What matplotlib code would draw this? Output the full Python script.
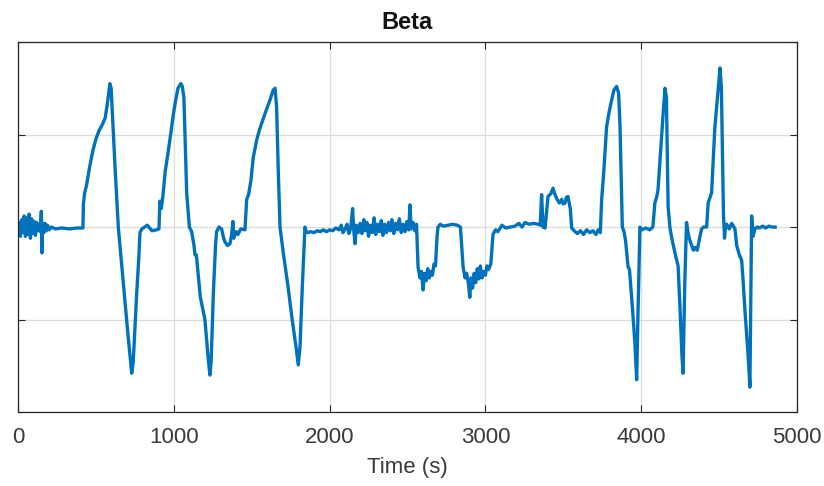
import matplotlib
matplotlib.use("Agg")
import matplotlib.pyplot as plt

plt.rcParams["font.family"] = ["Liberation Sans", "DejaVu Sans"]

# ── data ──────────────────────────────────────────────────────────────────────
start_t = [0, 8, 16, 24, 32, 40, 48, 56, 64, 72, 80, 88, 96, 104, 112, 120,
           128, 136, 144, 150, 154, 158, 166, 174, 182, 190, 200, 215, 240,
           280, 330, 380, 417]
start_v = [-0.05, 0.05, -0.10, 0.08, -0.06, 0.12, -0.10, 0.10, -0.08, 0.14,
           -0.12, 0.09, -0.07, 0.06, -0.09, 0.05, -0.04, 0.03, -0.05, 0.17,
           -0.28, 0.04, -0.06, 0.04, -0.04, 0.02, -0.03, 0.00, -0.02, -0.01,
           -0.02, -0.01, -0.01]

pulses_t = [420, 428, 440, 460, 480, 500, 520, 545, 560, 575, 590, 598, 623,
            644, 660, 700, 730, 740, 762, 775, 783, 795, 830, 860, 890, 905,
            911, 920, 930, 945, 963, 980, 995, 1010, 1027, 1045, 1055, 1065,
            1083, 1100, 1115, 1130, 1136, 1145, 1170, 1200, 1220, 1232, 1240,
            1254, 1268, 1275, 1290, 1307, 1320, 1329, 1345, 1361, 1370, 1380,
            1385, 1400, 1412, 1430, 1457,
            1468, 1480, 1495, 1510, 1532, 1550, 1574, 1595, 1617, 1638, 1650,
            1660, 1670, 1682, 1703, 1730, 1760, 1785, 1799, 1810, 1825, 1842,
            1850]
pulses_v = [0.25, 0.37, 0.45, 0.65, 0.82, 0.95, 1.04, 1.12, 1.18, 1.35, 1.55,
            1.50, 0.65, 0.00, -0.30, -1.05, -1.58, -1.45, -0.72, -0.35, -0.06,
            -0.02, 0.02, -0.04, -0.03, -0.02,
            0.28, 0.20, 0.33, 0.60, 0.80, 1.00, 1.19, 1.35, 1.50, 1.55, 1.52,
            1.40, 0.37, 0.00, -0.05, -0.20, -0.30, -0.30, -0.75, -1.00, -1.40,
            -1.60, -1.45, -0.72, -0.20, -0.05, 0.00, -0.02, -0.12, -0.16,
            -0.20, -0.18, -0.10, 0.06, -0.12, -0.05, -0.08, -0.02, -0.03,
            0.30, 0.35, 0.50, 0.75, 0.94, 1.05, 1.17, 1.27, 1.37, 1.48, 1.50,
            1.30, 0.65, 0.00, -0.28, -0.60, -1.00, -1.30, -1.49, -1.30, -0.65,
            0.00, -0.05]

middle_t = [1860, 1880, 1900, 1920, 1940, 1960, 1980, 2000, 2020, 2040, 2060,
            2075, 2085, 2100, 2112, 2124, 2136, 2148, 2156, 2164, 2172, 2184,
            2196, 2208, 2220, 2230, 2240, 2250, 2262, 2274, 2286, 2296, 2308,
            2320, 2332, 2342, 2354, 2366, 2378, 2390, 2400, 2412, 2424, 2436,
            2448, 2460, 2472, 2484, 2496, 2508, 2516, 2524, 2536, 2548, 2558,
            2568, 2580, 2590, 2600, 2610, 2620, 2630, 2640, 2650, 2660, 2670,
            2680, 2690, 2696, 2710, 2730, 2760, 2790, 2820, 2840,
            2857, 2870, 2880, 2892, 2900, 2908, 2918, 2928, 2938, 2948, 2958,
            2968, 2978, 2990, 3000, 3010, 3020, 3035, 3049, 3065, 3080, 3107,
            3130, 3160, 3190, 3215, 3235, 3255, 3280, 3310, 3340, 3352]
middle_v = [-0.06, -0.05, -0.06, -0.04, -0.05, -0.03, -0.05, -0.03, -0.04,
            -0.01, -0.03, 0.02, -0.06, -0.02, 0.03, -0.07, -0.01, 0.20, -0.05,
            -0.18, 0.02, -0.06, 0.04, -0.07, 0.08, -0.04, 0.05, -0.10, 0.02,
            -0.06, 0.10, -0.08, 0.03, -0.05, 0.07, -0.09, 0.03, -0.06, 0.05,
            -0.04, 0.08, -0.07, 0.04, -0.03, 0.09, -0.06, 0.03, -0.05, 0.06,
            -0.03, 0.24, -0.02, 0.05, -0.04, 0.03,
            -0.43, -0.55, -0.48, -0.68, -0.50, -0.58, -0.45, -0.55, -0.48,
            -0.52, -0.40, -0.42, -0.10, 0.00, 0.03, 0.01, 0.02, 0.03, 0.02,
            0.00,
            -0.43, -0.55, -0.50, -0.62, -0.76, -0.55, -0.66, -0.50, -0.60,
            -0.45, -0.56, -0.42, -0.55, -0.48, -0.52, -0.42, -0.46, -0.40,
            -0.08, -0.03, -0.05, 0.02, -0.01, 0.00, 0.01, 0.04, 0.00, 0.05,
            0.03, 0.04, 0.03, 0.02]

late_t = [3361, 3370, 3383, 3395, 3402, 3420, 3434, 3445, 3460, 3475, 3490,
          3500, 3511, 3520, 3530, 3545, 3554, 3570, 3590, 3610, 3630, 3650,
          3670, 3690, 3710, 3725, 3738,
          3746, 3760, 3778, 3795, 3810, 3825, 3842, 3855, 3864, 3879, 3890,
          3900, 3916, 3925, 3945, 3960, 3971, 3980, 3992, 4005, 4030, 4055,
          4075, 4088, 4100, 4108, 4120, 4131, 4142, 4153, 4162, 4173, 4185,
          4200, 4217, 4237, 4250, 4262, 4269, 4280, 4291, 4300, 4310, 4325,
          4335, 4345, 4360, 4375, 4388, 4400, 4420, 4430, 4452, 4465, 4473,
          4490, 4500, 4506, 4515, 4528, 4535, 4542, 4549, 4565, 4581, 4595,
          4602, 4613, 4630, 4645, 4655, 4666, 4685, 4698, 4705, 4709, 4718,
          4730, 4745, 4760, 4780, 4800, 4820, 4840, 4860]
late_v = [0.35, 0.00, -0.01, 0.20, 0.33, 0.36, 0.42, 0.36, 0.30, 0.26, 0.30,
          0.25, 0.26, 0.32, 0.33, 0.20, -0.01, -0.04, -0.07, -0.04, -0.08,
          -0.03, -0.06, -0.04, -0.08, -0.03, -0.06,
          0.29, 0.60, 1.08, 1.25, 1.37, 1.48, 1.52, 1.45, 1.10, 0.00, -0.05,
          -0.15, -0.43, -0.46, -0.90, -1.26, -1.65, -0.90, 0.00, -0.03, -0.01,
          -0.03, 0.00, 0.26, 0.33, 0.40, 0.70, 0.97, 1.25, 1.50, 1.40, 0.22,
          -0.01, -0.15, -0.28, -0.42, -0.90, -1.40, -1.58, -0.60, 0.05, -0.05,
          -0.13, -0.20, -0.25, -0.22, -0.25, -0.12, -0.02, 0.00, 0.00, 0.26,
          0.37, 0.80, 1.08, 1.40, 1.60, 1.72, 1.50, 0.15, -0.12, 0.02, 0.03,
          -0.02, 0.04, 0.00, -0.02, -0.20, -0.30, -0.36, -0.60, -0.90, -1.35,
          -1.73, -0.50, 0.12, -0.10, -0.02, 0.00, -0.01, 0.01, -0.01, 0.01,
          0.00, 0.00]

time_s = start_t + pulses_t + middle_t + late_t
beta = start_v + pulses_v + middle_v + late_v

x_ticks = [0, 1000, 2000, 3000, 4000, 5000]
y_ticks = [-2, -1, 0, 1, 2]

# ── plot ──────────────────────────────────────────────────────────────────────
fig = plt.figure(figsize=(8.24, 4.86), dpi=100)
ax = fig.add_axes([0.0218, 0.152, 0.9454, 0.7616])

ax.plot(time_s, beta, color="#0072BD", linewidth=2.4, solid_joinstyle="round")

ax.set_xlim(0, 5000)
ax.set_ylim(-2, 2)
ax.set_xticks(x_ticks)
ax.set_yticks(y_ticks)
ax.set_yticklabels([])
ax.grid(True, color="#dcdcdc", linewidth=0.9)
ax.set_axisbelow(True)
ax.tick_params(direction="in", length=5, width=0.8, color="#262626",
               top=True, right=True, labelsize=16, labelcolor="#3a3a3a",
               pad=11)
for s in ax.spines.values():
    s.set_color("#262626")
    s.set_linewidth(0.9)

ax.set_title("Beta", fontsize=17, fontweight="bold", color="#111111", pad=9)
ax.set_xlabel("Time (s)", fontsize=16, color="#3a3a3a", labelpad=6)

fig.savefig("out.png", dpi=100)
plt.close()
